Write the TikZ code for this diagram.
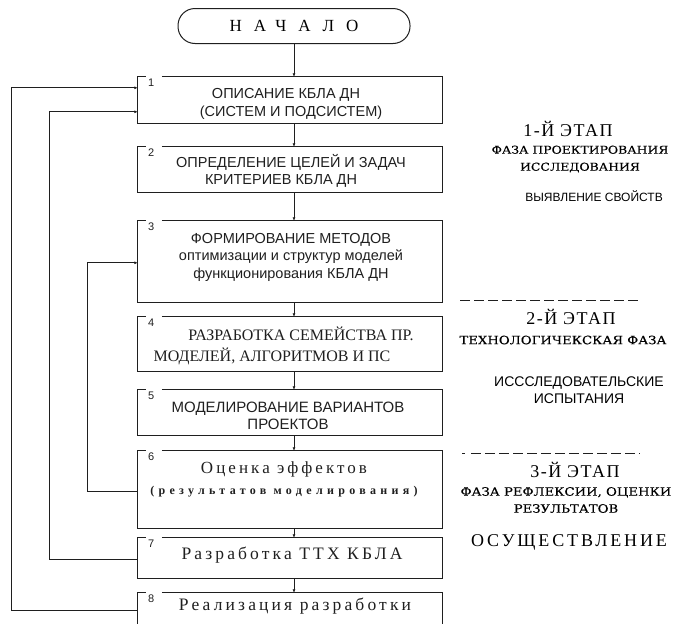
\documentclass[tikz,border=0pt]{standalone}
\usepackage{fontspec}
\setmainfont{Liberation Serif}
\newfontfamily\boxsans{Liberation Sans}
\newfontfamily\boxserif{Liberation Serif}
\newfontfamily\widesf[LetterSpace=18]{Liberation Serif}
\newfontfamily\headsf[LetterSpace=8]{Liberation Serif}
\newfontfamily\phasesf[FakeStretch=1.15,FakeBold=0.4]{DejaVu Serif}
\usetikzlibrary{arrows.meta}
\definecolor{frameline}{gray}{0.12}
\tikzset{frame/.style={draw=frameline,line width=1pt},
         flow/.style={frame,-{Latex[length=3.5pt,width=3pt]}},
         stepbox/.style={minimum width=304pt,inner sep=0pt},
         boxtext/.style={align=center,inner sep=0pt,text=frameline},
         numlbl/.style={font=\boxsans\fontsize{11}{11}\selectfont,inner sep=0pt,text=frameline},
         startbox/.style={frame,rounded corners=17pt,minimum width=232pt,minimum height=35pt,
                          font=\addfontfeatures{LetterSpace=70}\fontsize{17}{19}\selectfont},
         stagehead/.style={inner sep=0pt,font=\headsf\fontsize{18}{20}\selectfont},
         phasetext/.style={inner sep=0pt,align=center,font=\phasesf\fontsize{11.5}{17}\selectfont},
         plaintext/.style={inner sep=0pt,align=center,font=\boxsans\fontsize{14}{17}\selectfont},
         stageline/.style={draw=frameline,line width=1pt,dash pattern=on 10pt off 4pt}}
% frame with a break in the top edge for the number
\newcommand{\numframe}[2]{%
  \draw[frame] ([xshift=24pt]#1.north west) -| (#1.south east) -| (#1.north west) -- ++(8pt,0);
  \node[numlbl,anchor=north west] (#1n) at ([xshift=10pt,yshift=-2pt]#1.north west) {#2};}

\begin{document}
\begin{tikzpicture}[x=1pt,y=-1pt]
  \useasboundingbox (0,0) rectangle (675,624);
  \clip (0,0) rectangle (675,624);
  \node[startbox] (start) at (294,26) {НАЧАЛО};

  % boxes
  \node[stepbox,minimum height=46pt] (b1) at (290,100) {};
  \node[stepbox,minimum height=45pt] (b2) at (290,169.5) {};
  \node[stepbox,minimum height=81pt] (b3) at (290,261.5) {};
  \node[stepbox,minimum height=54pt] (b4) at (290,344) {};
  \node[stepbox,minimum height=45pt] (b5) at (290,412.5) {};
  \node[stepbox,minimum height=77pt] (b6) at (290,489.5) {};
  \node[stepbox,minimum height=40pt] (b7) at (290,558) {};
  \node[stepbox,minimum height=48pt] (b8) at (290,617) {};
  \numframe{b1}{1}
  \numframe{b2}{2}
  \numframe{b3}{3}
  \numframe{b4}{4}
  \numframe{b5}{5}
  \numframe{b6}{6}
  \numframe{b7}{7}
  \numframe{b8}{8}

  \begin{scope}[font=\boxsans\fontsize{14.5}{17.5}\selectfont]
    \node[boxtext] (t1) at (286,104) {ОПИСАНИЕ КБЛА ДН\\\hspace*{10pt}(СИСТЕМ И ПОДСИСТЕМ)};
    \node[boxtext] (t2) at (281,171) {\hspace*{20pt}ОПРЕДЕЛЕНИЕ ЦЕЛЕЙ И ЗАДАЧ\\КРИТЕРИЕВ КБЛА ДН};
    \node[boxtext] (t3) at (291,257) {ФОРМИРОВАНИЕ МЕТОДОВ\\
      {\fontsize{14.5}{16.5}\selectfont оптимизации и структур моделей}\\
      {\fontsize{14.5}{16.5}\selectfont функционирования КБЛА ДН}};
    \node[boxtext,font=\boxsans\fontsize{15}{17.5}\selectfont] (t5) at (288,416)
      {МОДЕЛИРОВАНИЕ ВАРИАНТОВ\\ПРОЕКТОВ};
  \end{scope}
  \node[boxtext,font=\boxserif\fontsize{16}{21}\selectfont] (t4) at (272,346)
    {\hspace*{58pt}РАЗРАБОТКА СЕМЕЙСТВА ПР.\\МОДЕЛЕЙ, АЛГОРИТМОВ И ПС};
  \node[boxtext,font=\widesf\fontsize{17}{21}\selectfont] (t6) at (284,479)
    {Оценка эффектов\\{\addfontfeatures{LetterSpace=36}\fontsize{12}{14}\selectfont\bfseries (результатов моделирования)}};
  \node[boxtext,font=\widesf\fontsize{17.5}{20}\selectfont] (t7) at (292,555) {Разработка ТТХ КБЛА};
  \node[boxtext,font=\widesf\fontsize{17.5}{20}\selectfont] (t8) at (295,606) {Реализация разработки};

  % main flow
  \draw[flow] (start.south) -- (b1.north -| start.south);
  \draw[flow] (b1.south -| start.south) -- (b2.north -| start.south);
  \draw[flow] (b2.south -| start.south) -- (b3.north -| start.south);
  \draw[flow] (b3.south -| start.south) -- (b4.north -| start.south);
  \draw[flow] (b4.south -| start.south) -- (b5.north -| start.south);
  \draw[flow] (b5.south -| start.south) -- (b6.north -| start.south);
  \draw[flow] (b6.south -| start.south) -- (b7.north -| start.south);
  \draw[flow] (b7.south -| start.south) -- (b8.north -| start.south);

  % return paths
  \draw[flow] ([yshift=-18pt]b8.north west) -| ([xshift=-126pt,yshift=-11pt]b1.north west)
              -- ([yshift=-11pt]b1.north west);
  \draw[flow] ([yshift=-22pt]b7.north west) -| ([xshift=-88pt,yshift=-35pt]b1.north west)
              -- ([yshift=-35pt]b1.north west);
  \draw[flow] ([yshift=-41pt]b6.north west) -| ([xshift=-50pt,yshift=-42pt]b3.north west)
              -- ([yshift=-42pt]b3.north west);

  % stages
  \node[stagehead] (s1) at (568,129) {1-Й ЭТАП};
  \node[phasetext,font=\phasesf\fontsize{10.8}{17}\selectfont] (p1) at (580,159) {ФАЗА ПРОЕКТИРОВАНИЯ\\ИССЛЕДОВАНИЯ};
  \node[plaintext,font=\boxsans\fontsize{12}{17}\selectfont] (r1) at (594,196) {ВЫЯВЛЕНИЕ СВОЙСТВ};
  \draw[stageline] (460,300) -- (640,300);
  \node[stagehead] (s2) at (571,317) {2-Й ЭТАП};
  \node[phasetext] (p2) at (563,340) {ТЕХНОЛОГИЧЕКСКАЯ ФАЗА};
  \node[plaintext] (r2) at (579,390) {ИСССЛЕДОВАТЕЛЬСКИЕ\\ИСПЫТАНИЯ};
  \draw[stageline] (462,453) -- ++(3,0);
  \draw[stageline] (471,453) -- (640,453);
  \node[stagehead] (s3) at (575,470) {3-Й ЭТАП};
  \node[phasetext] (p3) at (566,500) {ФАЗА РЕФЛЕКСИИ, ОЦЕНКИ\\РЕЗУЛЬТАТОВ};
  \node[stagehead,font=\addfontfeatures{LetterSpace=16}\fontsize{18}{20}\selectfont] (s4) at (569,542) {ОСУЩЕСТВЛЕНИЕ};
\end{tikzpicture}
\end{document}
